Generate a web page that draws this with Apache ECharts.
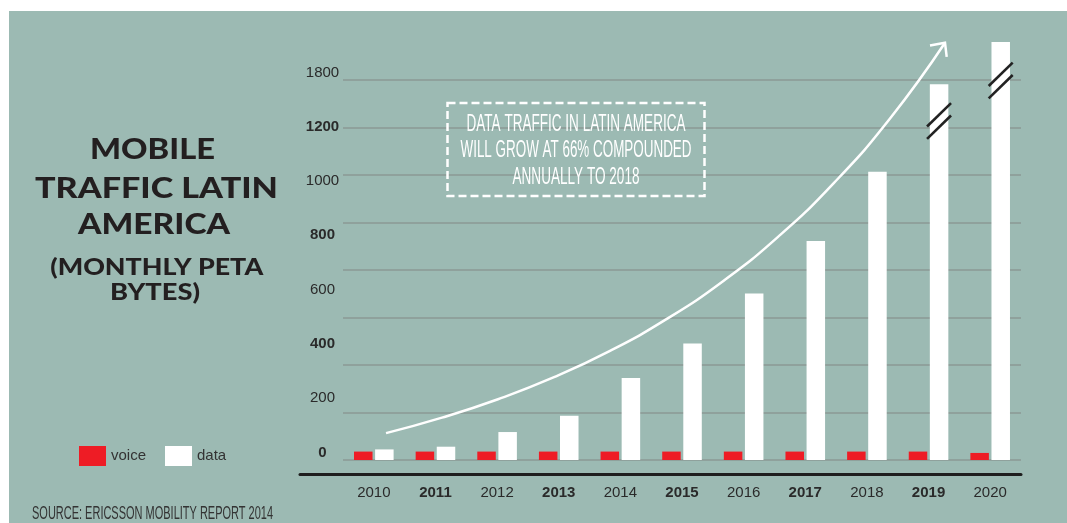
<!DOCTYPE html>
<html><head><meta charset="utf-8">
<script src="https://cdn.jsdelivr.net/npm/echarts@6/dist/echarts.min.js"></script>
<style>
html,body{margin:0;padding:0;background:#fff;}
#c{width:1067px;height:523px;background:linear-gradient(#9cbab3,#9cbab3) no-repeat 9px 11px / 1058px 512px, #fff;}
</style>
</head><body><div id="c"></div>
<script>
// ---- data ----
const years = ['2010','2011','2012','2013','2014','2015','2016','2017','2018','2019','2020'];
const voice = [31,31,31,31,31,31,31,31,31,31,26];
const dataTraffic = [39,49,103,163,302,429,613,807,1062,1384,1540];
const yTickLabels = ['0','200','400','600','800','1000','1200','1800'];
// trend arrow (x in category units, y in axis units)
const trendX = [0.198,1.106,2.015,2.924,3.832,4.741,5.649,6.558,7.466,8.375,9.267];
const trendY = [99,156,224,305,402,518,656,822,1021,1258,1537];
// axis break marks on bars: [category index, value]
const breakMarks = [[9,1249],[10,1398]];
const titleLines = ['MOBILE','TRAFFIC LATIN','AMERICA','(MONTHLY PETA','BYTES)'];
const noteLines = ['DATA TRAFFIC IN LATIN AMERICA','WILL GROW AT 66% COMPOUNDED','ANNUALLY TO 2018'];
const sourceText = 'SOURCE: ERICSSON MOBILITY REPORT 2014';

const NARROW = '"Liberation Sans Narrow","Liberation Sans",Arial,sans-serif';
const TXT = '#2a2a2a';

const meas = document.createElement('canvas').getContext('2d');
function fit(text, cx, cy, font, target, color){
  meas.font = font;
  const w = meas.measureText(text).width || target;
  return {type:'text', x:cx, y:cy, scaleX: target/w, z:50,
    style:{text:text, font:font, fill:color, textAlign:'center', textVerticalAlign:'middle', align:'center', verticalAlign:'middle'}};
}

const graphics = [];
const tFont = '900 29px Lato, "Open Sans", sans-serif';
const sFont = '900 23px Lato, "Open Sans", sans-serif';
const titlePos = [[152.5,149.5,125,tFont],[156.5,188.5,243,tFont],[154,225,152,tFont],[156.7,267.5,213,sFont],[155,292.5,90,sFont]];
titleLines.forEach((t,i)=>{const p=titlePos[i]; graphics.push(fit(t,p[0],p[1],p[3],p[2],'#231f20'));});
const nFont = '23px ' + NARROW;
const notePos = [[576,125,219],[576,150.5,231],[576,178,127]];
noteLines.forEach((t,i)=>{const p=notePos[i]; graphics.push(fit(t,p[0],p[1],nFont,p[2],'#ffffff'));});
graphics.push({type:'rect', z:40, shape:{x:447.5,y:103,width:257,height:93},
  style:{fill:'none', stroke:'#ffffff', lineWidth:2.5, lineDash:[8,4]}});
graphics.push(fit(sourceText,152.5,514,'18px '+NARROW,241,'#333333'));

const chart = echarts.init(document.getElementById('c'), null, {renderer:'canvas'});
chart.setOption({
  animation:false,
  backgroundColor:'transparent',
  grid:[
    {left:343, right:46, top:80, bottom:63},
    {left:300, right:46, top:470, bottom:49}
  ],
  legend:{
    left:74, top:441, itemWidth:27, itemHeight:20, itemGap:19, icon:'rect',
    data:['voice','data'],
    textStyle:{fontFamily:NARROW, fontSize:15, color:'#333'}
  },
  xAxis:[
    {type:'category', gridIndex:0, data:years,
     axisLine:{show:false}, axisTick:{show:false},
     axisLabel:{margin:25, formatter:(v,i)=> (i%2===1?'{b|'+v+'}':'{n|'+v+'}'),
       rich:{n:{fontFamily:NARROW,fontSize:15,color:TXT}, b:{fontFamily:NARROW,fontSize:15,fontWeight:'bold',color:TXT}}}},
    {type:'value', gridIndex:0, min:-0.5, max:10.5, show:false},
    {type:'value', gridIndex:1, min:0, max:1, axisLine:{show:true, lineStyle:{color:'#1e1e1e', width:3}},
     axisTick:{show:false}, axisLabel:{show:false}, splitLine:{show:false}}
  ],
  yAxis:[
    {type:'value', gridIndex:0, min:0, max:1400, interval:175,
     axisLine:{show:false}, axisTick:{show:false}, axisLabel:{show:false},
     splitLine:{show:true, lineStyle:{color:'#8b9995', width:1.5}}},
    {type:'value', gridIndex:0, min:0, max:1400, interval:200, position:'left',
     axisLine:{show:false}, axisTick:{show:false}, splitLine:{show:false},
     axisLabel:{align:'center', margin:20.5, verticalAlign:'bottom',
       formatter:(v)=>{const i=Math.round(v/200); const s=yTickLabels[i]; return i%2===0?'{b|'+s+'}':'{n|'+s+'}';},
       rich:{n:{fontFamily:NARROW,fontSize:15,color:TXT}, b:{fontFamily:NARROW,fontSize:15,fontWeight:'bold',color:TXT}}}},
    {type:'value', gridIndex:1, show:false}
  ],
  series:[
    {name:'voice', type:'bar', xAxisIndex:0, yAxisIndex:0, data:voice, barWidth:18.5, barGap:'14%',
     itemStyle:{color:'#ee1c25'}},
    {name:'data', type:'bar', xAxisIndex:0, yAxisIndex:0, data:dataTraffic, barWidth:18.5, barGap:'14%', clip:false,
     itemStyle:{color:'#ffffff'}},
    {name:'trend', type:'line', xAxisIndex:1, yAxisIndex:0, smooth:0.5, clip:false, symbol:'none',
     data: trendX.map((x,i)=>[x,trendY[i]]), lineStyle:{color:'#ffffff', width:2.5}, z:5},
    {name:'arrowhead', type:'custom', xAxisIndex:1, yAxisIndex:0, clip:false, z:6,
     data:[[trendX[trendX.length-1], trendY[trendY.length-1]]],
     renderItem:(params, api)=>{
       const p = api.coord([api.value(0), api.value(1)]);
       return {type:'polyline', shape:{points:[[p[0]-15,p[1]+2.7],[p[0],p[1]],[p[0]+1.7,p[1]+14]]},
         style:{stroke:'#ffffff', lineWidth:2.5, fill:null}};
     }},
    {name:'breaks', type:'custom', xAxisIndex:0, yAxisIndex:0, clip:false, z:7,
     data: breakMarks,
     renderItem:(params, api)=>{
       const p = api.coord([api.value(0), api.value(1)]);
       const x = p[0] + 10.5, y = p[1];
       const mk = (dy)=>({type:'line', shape:{x1:x-12,y1:y+dy+11.7,x2:x+12,y2:y+dy-11.7},
         style:{stroke:'#222222', lineWidth:2.6}});
       return {type:'group', children:[mk(-6.2), mk(6.2)]};
     }}
  ],
  graphic: graphics
});
</script>
</body></html>
